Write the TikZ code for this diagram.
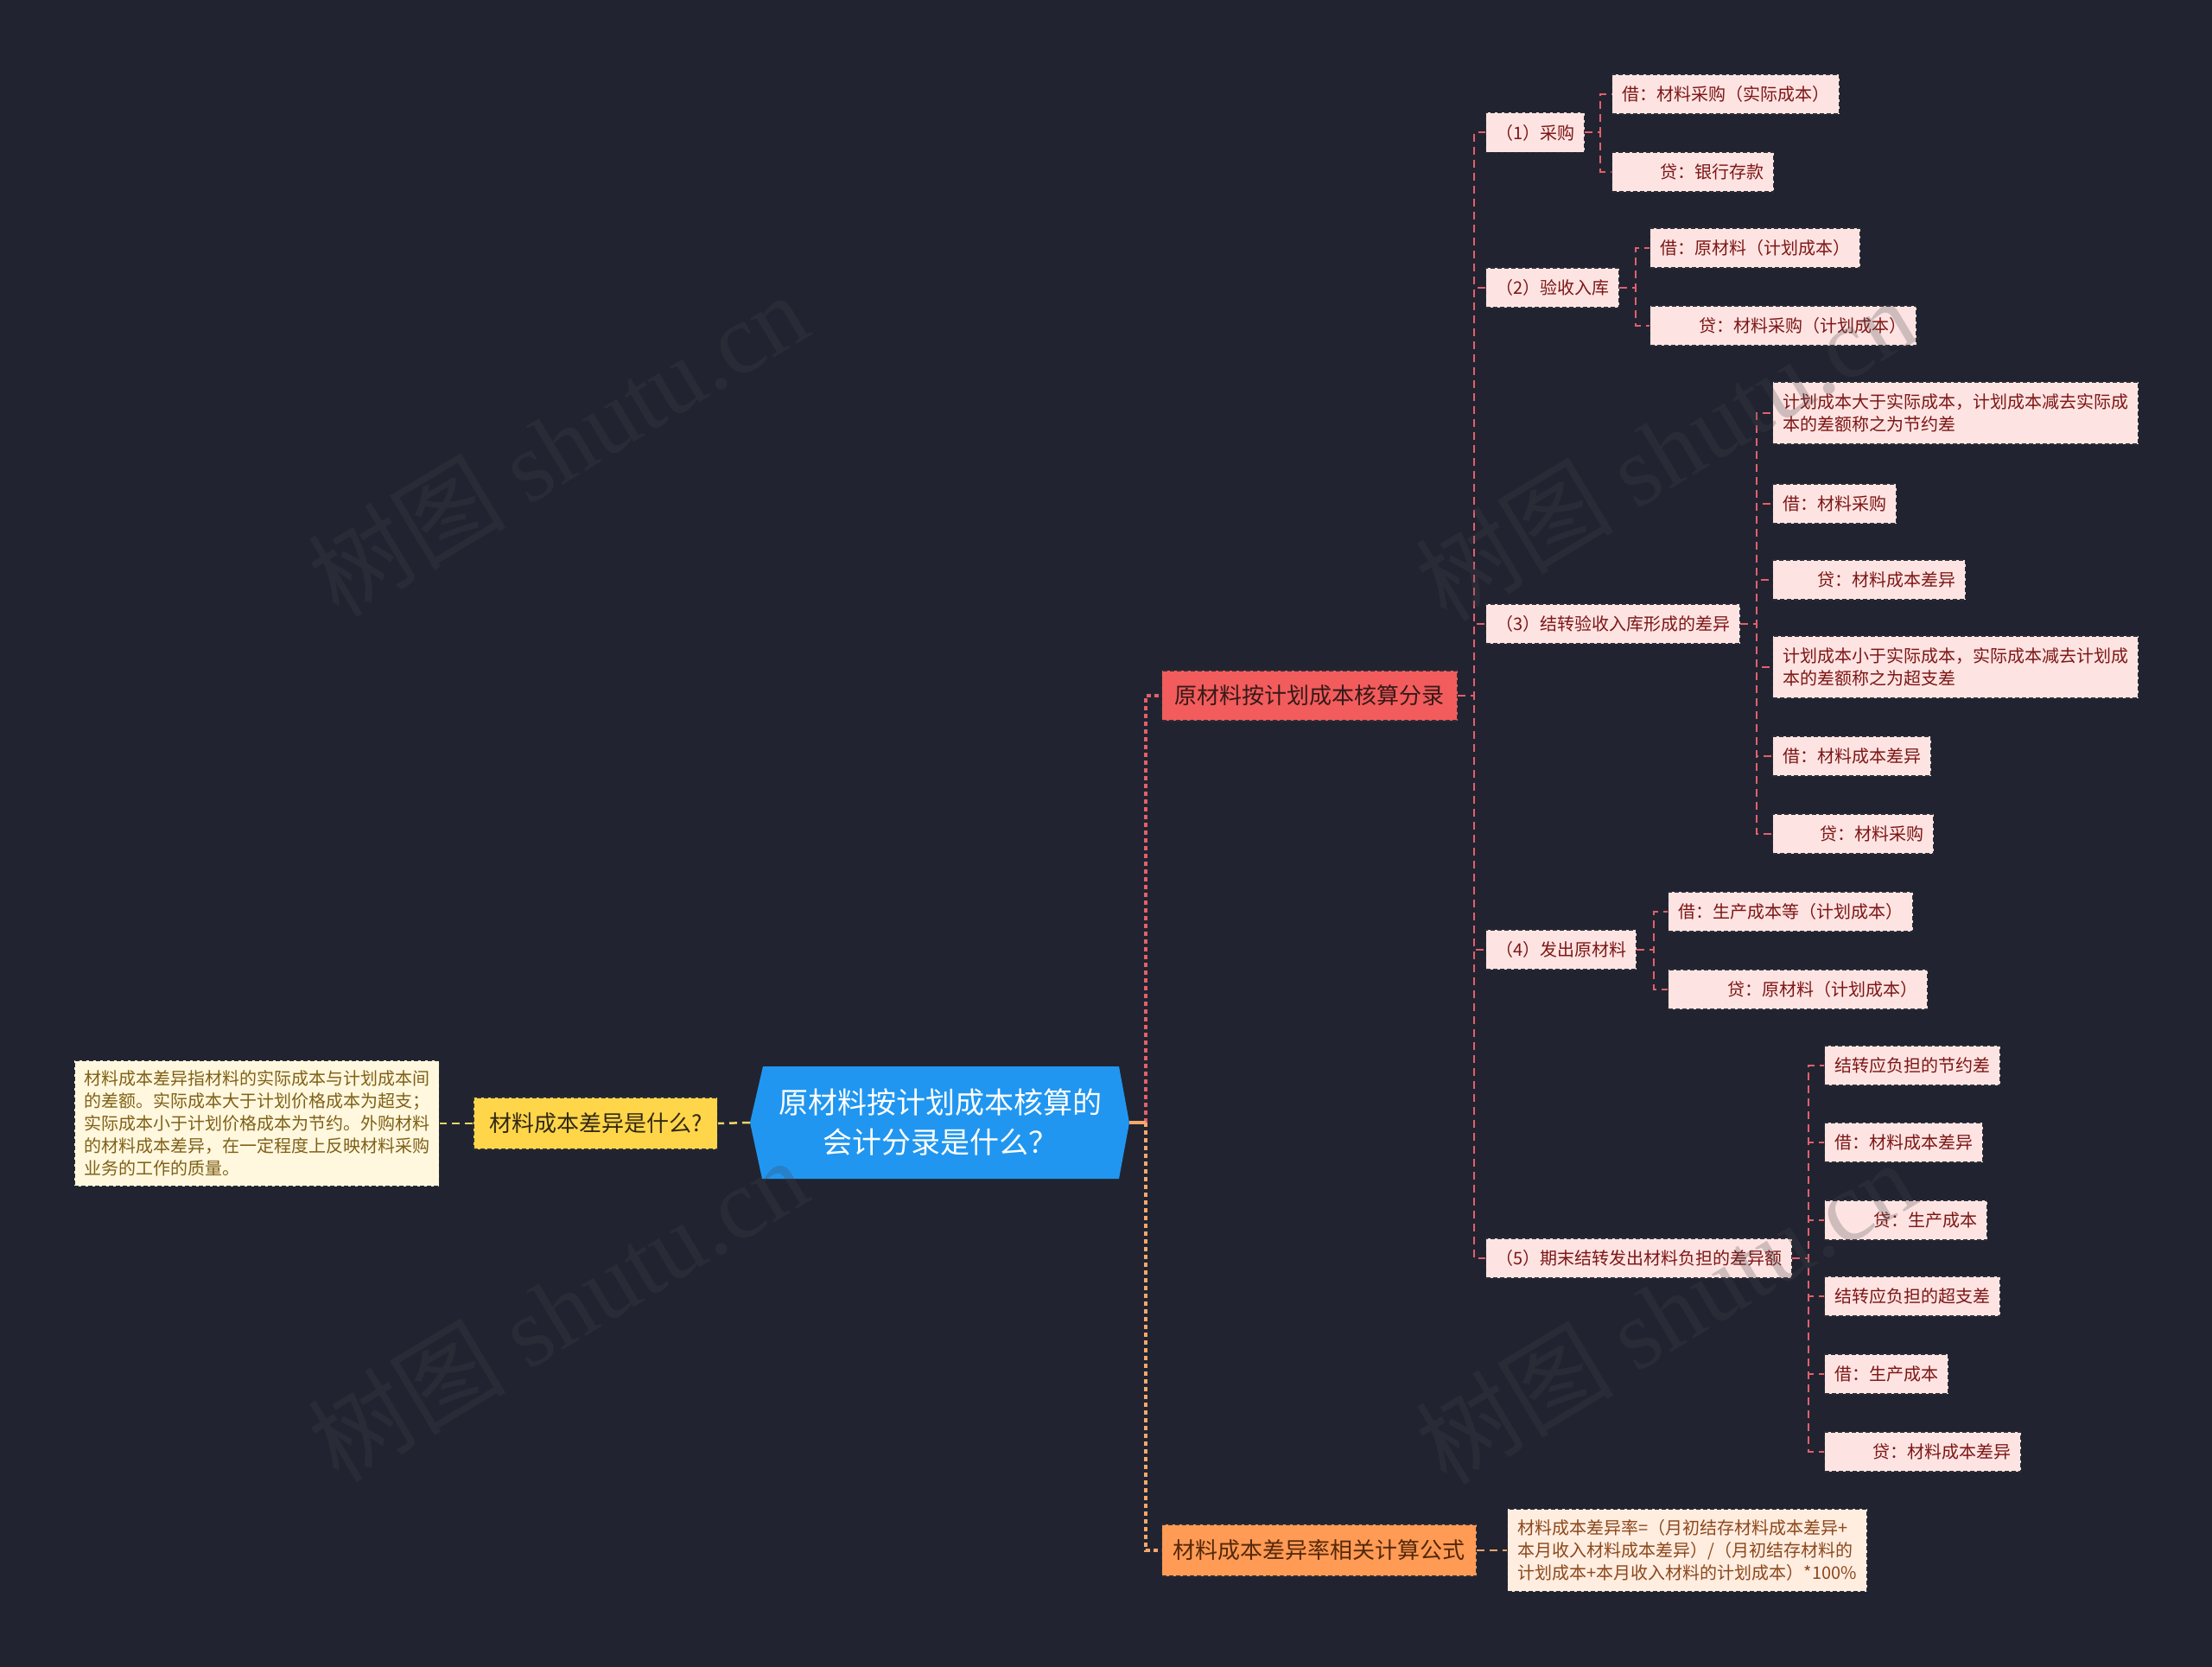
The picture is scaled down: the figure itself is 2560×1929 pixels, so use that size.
\documentclass[tikz,border=0pt]{standalone}
\usepackage{fontspec}
\setmainfont{Noto Sans CJK SC}
\newfontfamily\wmserif{Liberation Serif}
\usetikzlibrary{calc}
\definecolor{bg}{RGB}{33,36,48}
\definecolor{pinkfill}{RGB}{253,228,226}
\definecolor{pinktext}{RGB}{125,22,22}
\definecolor{nodeborder}{RGB}{45,45,55}
\definecolor{redfill}{RGB}{242,92,92}
\definecolor{redtext}{RGB}{55,25,25}
\definecolor{orfill}{RGB}{255,155,85}
\definecolor{ortext}{RGB}{85,40,10}
\definecolor{yefill}{RGB}{255,214,74}
\definecolor{yetext}{RGB}{50,40,20}
\definecolor{notefill}{RGB}{255,248,222}
\definecolor{notetext}{RGB}{128,96,24}
\definecolor{formfill}{RGB}{255,237,224}
\definecolor{formtext}{RGB}{140,72,28}
\definecolor{rootfill}{RGB}{32,150,240}
\definecolor{redline}{RGB}{226,96,108}
\definecolor{orline}{RGB}{247,168,106}
\definecolor{yeline}{RGB}{245,213,99}
\definecolor{wmcol}{RGB}{66,66,74}
\begin{document}
\begin{tikzpicture}[x=1pt,y=-1pt,
  boxborder/.style={draw=nodeborder, dash pattern=on 5pt off 3pt, line width=1.3pt},
  leaf/.style={boxborder, fill=pinkfill, text=pinktext, font=\fontsize{20}{26}\selectfont,
    inner xsep=11.5pt, inner ysep=0pt, minimum height=46pt, anchor=west, align=left},
  twoline/.style={leaf, inner ysep=10pt, minimum height=72pt},
  redn/.style={boxborder, fill=redfill, text=redtext, font=\fontsize{26}{32}\selectfont,
    inner xsep=15pt, inner ysep=0pt, minimum height=58pt, anchor=west},
  orn/.style={boxborder, fill=orfill, text=ortext, font=\fontsize{26}{32}\selectfont,
    inner xsep=13pt, inner ysep=0pt, minimum height=60pt, anchor=west},
  yen/.style={boxborder, fill=yefill, text=yetext, font=\fontsize{26}{32}\selectfont,
    inner xsep=18pt, inner ysep=0pt, minimum height=60pt, anchor=east},
  noten/.style={boxborder, fill=notefill, text=notetext, font=\fontsize{20}{26}\selectfont,
    inner xsep=11pt, inner ysep=11.5pt, anchor=east, align=left},
  formn/.style={boxborder, fill=formfill, text=formtext, font=\fontsize{20}{26}\selectfont,
    inner xsep=12pt, inner ysep=12pt, anchor=west, align=left},
  rootn/.style={text=white, font=\fontsize{34}{46}\selectfont, align=center, inner sep=0pt},
  conntwo/.style={draw=redline, line width=2pt, dash pattern=on 9pt off 6pt},
  trunkred/.style={draw=redline, line width=3.5pt, dash pattern=on 5pt off 4pt},
  trunkor/.style={draw=orline, line width=3.5pt, dash pattern=on 5pt off 4pt},
  orconn/.style={draw=orline, line width=2pt, dash pattern=on 9pt off 6pt},
  yeconn/.style={draw=yeline, line width=2.5pt, dash pattern=on 9pt off 6pt},
  wm/.style={text=wmcol, text opacity=0.25, font=\fontsize{115}{120}\selectfont, rotate=31}
]
\fill[bg] (0,0) rectangle (2560,1929);
\useasboundingbox (0,0) rectangle (2560,1929);

% root hexagon
\coordinate (rootW) at (868,1299);
\coordinate (rootE) at (1307,1299);
\fill[rootfill] (883,1234) -- (1295,1234) -- (rootE) -- (1295,1364) -- (882,1364) -- (rootW) -- cycle;
\node[rootn] (root) at (1088,1299) {原材料按计划成本核算的\\会计分录是什么？};

% level 1
\node[redn] (red) at (1344,805) {原材料按计划成本核算分录};
\node[orn] (orange) at (1344,1794) {材料成本差异率相关计算公式};
\node[yen] (yellow) at (831,1300) {材料成本差异是什么?};
\node[noten] (note) at (509,1300) {材料成本差异指材料的实际成本与计划成本间\\的差额。实际成本大于计划价格成本为超支；\\实际成本小于计划价格成本为节约。外购材料\\的材料成本差异，在一定程度上反映材料采购\\业务的工作的质量。};
\node[formn] (formula) at (1744,1794) {材料成本差异率=（月初结存材料成本差异+\\本月收入材料成本差异）/（月初结存材料的\\计划成本+本月收入材料的计划成本）*100\%};

% level 2
\node[leaf] (c1) at (1719,153.5) {（1）采购};
\node[leaf] (c2) at (1719,333) {（2）验收入库};
\node[leaf] (c3) at (1719,722) {（3）结转验收入库形成的差异};
\node[leaf] (c4) at (1719,1099) {（4）发出原材料};
\node[leaf] (c5) at (1719,1456) {（5）期末结转发出材料负担的差异额};

% level 3
\node[leaf] (c1a) at (1865,109) {借：材料采购（实际成本）};
\node[leaf, align=right, text width=164pt] (c1b) at (1865,199) {贷：银行存款};
\node[leaf] (c2a) at (1909,287) {借：原材料（计划成本）};
\node[leaf, align=right, text width=285pt] (c2b) at (1909,377) {贷：材料采购（计划成本）};
\node[twoline] (c3a) at (2051,478) {计划成本大于实际成本，计划成本减去实际成\\本的差额称之为节约差};
\node[leaf] (c3b) at (2051,583) {借：材料采购};
\node[leaf, align=right, text width=200pt] (c3c) at (2051,671) {贷：材料成本差异};
\node[twoline] (c3d) at (2051,772) {计划成本小于实际成本，实际成本减去计划成\\本的差额称之为超支差};
\node[leaf] (c3e) at (2051,875) {借：材料成本差异};
\node[leaf, align=right, text width=163pt] (c3f) at (2051,965) {贷：材料采购};
\node[leaf] (c4a) at (1930,1055) {借：生产成本等（计划成本）};
\node[leaf, align=right, text width=277pt] (c4b) at (1930,1145) {贷：原材料（计划成本）};
\node[leaf] (c5a) at (2111,1233) {结转应负担的节约差};
\node[leaf] (c5b) at (2111,1322) {借：材料成本差异};
\node[leaf, align=right, text width=165pt] (c5c) at (2111,1412) {贷：生产成本};
\node[leaf] (c5d) at (2111,1500) {结转应负担的超支差};
\node[leaf] (c5e) at (2111,1590) {借：生产成本};
\node[leaf, align=right, text width=204pt] (c5f) at (2111,1680) {贷：材料成本差异};

% trunk connectors
\coordinate (tj) at (1326,1299);
\draw[trunkred] (tj) |- (red.west);
\draw[trunkor] (tj) |- (orange.west);
\draw[draw=orline, line width=3.5pt] (rootE) -- (tj);
\draw[yeconn] (rootW) -- (yellow.east);
\draw[yeconn] (yellow.west) -- (note.east);
\draw[orconn] (orange.east) -- (formula.west);

% level 2 connectors
\foreach \c in {c1,c2,c3,c4,c5}
  \draw[conntwo] (red.east) -- ([xshift=19pt]red.east) |- (\c.west);
% level 3 connectors
\foreach \c in {c1a,c1b}
  \draw[conntwo] (c1.east) -- ([xshift=18pt]c1.east) |- (\c.west);
\foreach \c in {c2a,c2b}
  \draw[conntwo] (c2.east) -- ([xshift=19pt]c2.east) |- (\c.west);
\foreach \c in {c3a,c3b,c3c,c3d,c3e,c3f}
  \draw[conntwo] (c3.east) -- ([xshift=19pt]c3.east) |- (\c.west);
\foreach \c in {c4a,c4b}
  \draw[conntwo] (c4.east) -- ([xshift=20pt]c4.east) |- (\c.west);
\foreach \c in {c5a,c5b,c5c,c5d,c5e,c5f}
  \draw[conntwo] (c5.east) -- ([xshift=19pt]c5.east) |- (\c.west);

% watermarks
\node[wm] (wm1) at (645,514) {树图 {\wmserif shutu.cn}};
\node[wm] (wm2) at (1927,519) {树图 {\wmserif shutu.cn}};
\node[wm] (wm3) at (645,1515) {树图 {\wmserif shutu.cn}};
\node[wm] (wm4) at (1927,1518) {树图 {\wmserif shutu.cn}};
\end{tikzpicture}
\end{document}
